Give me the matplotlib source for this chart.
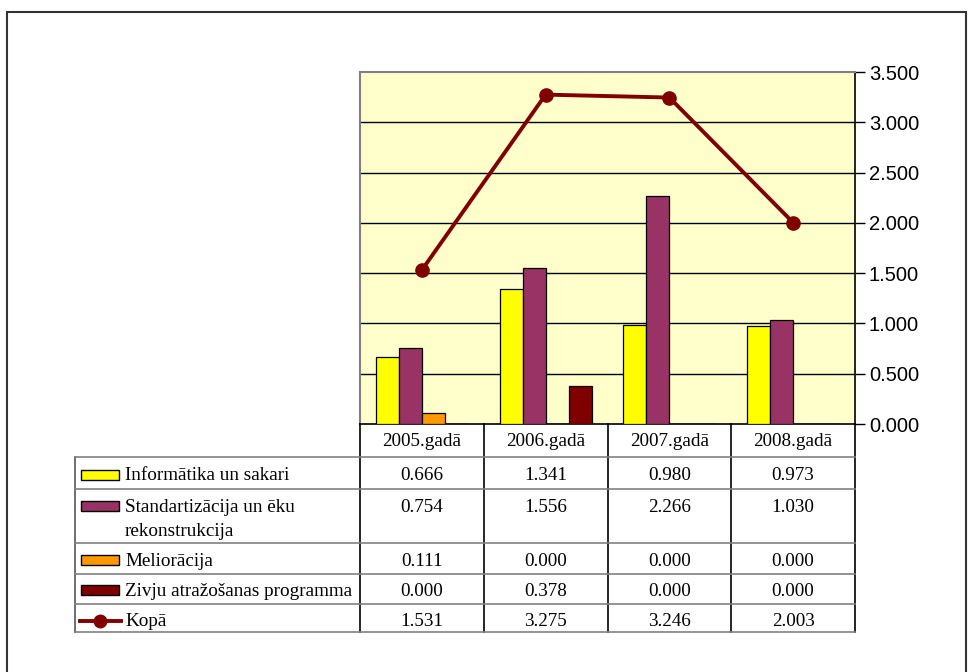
import matplotlib
matplotlib.use("Agg")
import matplotlib.pyplot as plt
from matplotlib.lines import Line2D
from matplotlib.patches import Rectangle
import numpy as np

categories = ["2005.gadā", "2006.gadā", "2007.gadā", "2008.gadā"]
series_names = ["Informātika un sakari", "Standartizācija un ēku\nrekonstrukcija",
                "Meliorācija", "Zivju atražošanas programma"]
informatika = [0.666, 1.341, 0.980, 0.973]
standartizacija = [0.754, 1.556, 2.266, 1.030]
melioracija = [0.111, 0.000, 0.000, 0.000]
zivju = [0.000, 0.378, 0.000, 0.000]
kopa = [1.531, 3.275, 3.246, 2.003]
total_name = "Kopā"
yticks = [0.0, 0.5, 1.0, 1.5, 2.0, 2.5, 3.0, 3.5]
ytick_labels = ["0.000", "0.500", "1.000", "1.500", "2.000", "2.500", "3.000", "3.500"]

bar_series = [informatika, standartizacija, melioracija, zivju]
colors = ["#FFFF00", "#993366", "#FF9900", "#800000"]
line_color = "#800000"

W, H = 968, 672
fig = plt.figure(figsize=(W / 100, H / 100), dpi=100)
fig.patch.set_facecolor("white")

def fx(x):
    return x / W

def fy(y):
    return 1 - y / H

# plot area in pixels
PL, PR, PT, PB = 360, 855, 72, 424
ax = fig.add_axes([fx(PL), fy(PB), fx(PR - PL), (PB - PT) / H])
ax.set_facecolor("#FFFFCC")
n = len(categories)
x = np.arange(n)
bw = 23 / 123.75
for i, (vals, c) in enumerate(zip(bar_series, colors)):
    ax.bar(x + (i - 1.5) * bw, vals, width=bw, color=c, edgecolor="black",
           linewidth=0.9, zorder=3)
ax.plot(x, kopa, color=line_color, lw=2.8, marker="o", ms=9.5, zorder=4)
ax.set_xlim(-0.5, n - 0.5)
ax.set_ylim(0, 3.5)
ax.set_yticks(yticks)
ax.set_yticklabels(ytick_labels, fontsize=14.5, family="Liberation Sans")
ax.yaxis.tick_right()
ax.tick_params(axis="y", direction="out", length=7, width=1, color="black", pad=3)
ax.set_xticks([])
for yv in yticks[1:-1]:
    ax.axhline(yv, color="black", lw=1, zorder=1)
for s in ["top", "left"]:
    ax.spines[s].set_color("#808080")
    ax.spines[s].set_linewidth(1.5)
ax.spines["right"].set_color("black")
ax.spines["right"].set_linewidth(1.2)
ax.spines["bottom"].set_color("black")
ax.spines["bottom"].set_linewidth(1.2)

def hline(x0, x1, y, color="#808080", lw=1.2):
    fig.add_artist(Line2D([fx(x0), fx(x1)], [fy(y), fy(y)], color=color, lw=lw))

def vline(x, y0, y1, color="black", lw=1.2):
    fig.add_artist(Line2D([fx(x), fx(x)], [fy(y0), fy(y1)], color=color, lw=lw))

# outer frame
fig.add_artist(Rectangle((fx(7), fy(680)), fx(966 - 7), (680 - 12) / H,
                         fill=False, edgecolor="#333333", lw=1.5))

# table geometry
TL = 75
col_edges = [360, 483.75, 607.5, 731.25, 855]
header_top, header_bot = 424, 457
row_edges = [457, 489, 543, 574, 604, 632]
text_y = [476, 507, 561, 591, 621]
serif = "Liberation Serif"
fs = 13.8

# header
for j, cat in enumerate(categories):
    cx = (col_edges[j] + col_edges[j + 1]) / 2
    fig.text(fx(cx), fy(441), cat, ha="center", va="center", fontsize=fs, family=serif)
for xe in col_edges[1:-1]:
    vline(xe, header_top, row_edges[-1])
vline(col_edges[0], header_top, row_edges[-1])
vline(col_edges[-1], header_top, row_edges[-1])
vline(TL, row_edges[0], row_edges[-1], color="#555555")
for ye in row_edges:
    hline(TL, col_edges[-1], ye)

# rows
rows = [(series_names[i], bar_series[i], colors[i]) for i in range(4)]
for r, (name, vals, c) in enumerate(rows):
    ty = text_y[r]
    fig.add_artist(Rectangle((fx(81), fy(ty + 4)), fx(38), 10 / H,
                             facecolor=c, edgecolor="black", lw=1))
    if "\n" in name:
        l1, l2 = name.split("\n")
        fig.text(fx(125), fy(ty), l1, ha="left", va="center", fontsize=fs, family=serif)
        fig.text(fx(125), fy(ty + 25), l2, ha="left", va="center", fontsize=fs, family=serif)
    else:
        fig.text(fx(125), fy(ty), name, ha="left", va="center", fontsize=fs, family=serif)
    for j, v in enumerate(vals):
        cx = (col_edges[j] + col_edges[j + 1]) / 2
        fig.text(fx(cx), fy(ty), f"{v:.3f}", ha="center", va="center", fontsize=fs, family=serif)

# total row
ty = text_y[4]
fig.add_artist(Line2D([fx(80), fx(121)], [fy(ty), fy(ty)], color=line_color, lw=2.8))
fig.add_artist(Line2D([fx(100)], [fy(ty)], color=line_color, marker="o", ms=9))
fig.text(fx(125), fy(ty), total_name, ha="left", va="center", fontsize=fs, family=serif)
for j, v in enumerate(kopa):
    cx = (col_edges[j] + col_edges[j + 1]) / 2
    fig.text(fx(cx), fy(ty), f"{v:.3f}", ha="center", va="center", fontsize=fs, family=serif)

fig.savefig("out.png", dpi=100)
